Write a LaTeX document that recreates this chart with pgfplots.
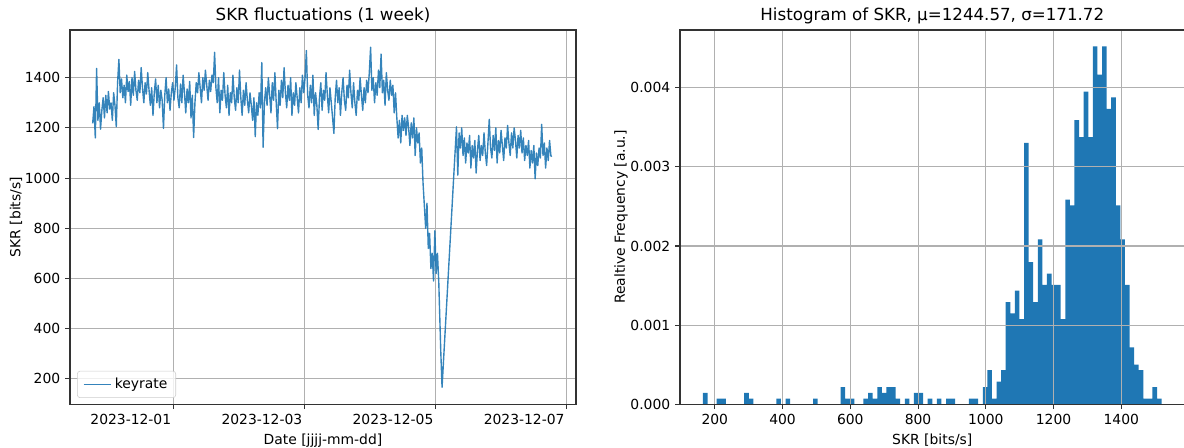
\documentclass[border=0pt]{standalone}
\usepackage{fontspec}
\setmainfont{DejaVu Sans}
\usepackage{pgfplots}
\pgfplotsset{compat=1.18}
\definecolor{mplblue}{HTML}{1F77B4}
\definecolor{gridgray}{HTML}{B0B0B0}
\pgfplotsset{
  mpl/.style={
    scale only axis,
    axis line style={line width=0.8pt, black!80},
    tick pos=left,
    tick align=outside,
    major tick length=3.5pt,
    every tick/.style={line width=0.8pt, black!80},
    grid=major,
    grid style={line width=0.8pt, gridgray},
    tick label style={font=\fontsize{10}{12}\selectfont},
    label style={font=\fontsize{10}{12}\selectfont},
    ylabel style={yshift=-5pt},
    title style={font=\fontsize{12}{14}\selectfont, at={(0.5,1)}, anchor=base, yshift=1pt},
    /pgf/number format/assume math mode=true,
  }
}
\begin{document}
\begin{tikzpicture}[x=1pt,y=1pt]
\useasboundingbox (0,0) rectangle (852.48,322.56);
\begin{axis}[mpl,
  at={(50.4pt,31.46pt)}, anchor=south west,
  width=364.3pt, height=269.5pt,
  xmin=-1.576, xmax=6.143, ymin=99, ymax=1590,
  xtick={0,2,4,6},
  xticklabels={2023-12-01,2023-12-03,2023-12-05,2023-12-07},
  xticklabel style={anchor=north east, xshift=2pt},
  ytick={200,400,600,800,1000,1200,1400},
  yticklabel style={/pgf/number format/1000 sep={}},
  title={SKR fluctuations (1 week)},
  xlabel={Date [jjjj-mm-dd]},
  ylabel={SKR [bits/s]},
  legend style={at={(0.014,0.017)}, anchor=south west, draw=black!20, rounded corners=2pt, font=\fontsize{10}{12}\selectfont, inner xsep=4pt, inner ysep=3pt, fill=white, fill opacity=0.8, text opacity=1},
  legend image code/.code={\draw[#1] (0pt,0pt) -- (20pt,0pt);},
]
\addplot[color=mplblue, line width=1pt, opacity=0.9, line join=round] coordinates {
(-1.23,1218)(-1.21,1285)(-1.19,1160)(-1.17,1437)(-1.15,1230)(-1.13,1300)(-1.11,1195)(-1.09,1270)(-1.07,1320)(-1.05,1240)(-1.03,1330)(-1.01,1260)(-0.99,1345)(-0.97,1275)(-0.95,1300)(-0.93,1230)(-0.91,1340)(-0.89,1290)
(-0.87,1205)(-0.85,1380)(-0.83,1473)(-0.81,1340)(-0.79,1395)(-0.77,1320)(-0.75,1370)(-0.73,1300)(-0.71,1410)(-0.69,1345)(-0.67,1385)(-0.65,1290)(-0.63,1400)(-0.61,1330)(-0.59,1425)(-0.57,1350)(-0.55,1310)(-0.53,1390)(-0.51,1340)(-0.49,1440)(-0.47,1360)(-0.45,1300)(-0.43,1380)(-0.41,1335)(-0.39,1420)(-0.37,1350)
(-0.35,1290)(-0.33,1360)(-0.31,1250)(-0.29,1340)(-0.27,1395)(-0.25,1300)(-0.23,1370)(-0.21,1280)(-0.19,1350)(-0.17,1310)(-0.15,1198)(-0.13,1330)(-0.11,1400)(-0.09,1300)(-0.07,1355)(-0.05,1270)(-0.03,1340)(-0.01,1380)(0.01,1310)(0.03,1360)(0.05,1451)(0.07,1320)(0.09,1280)(0.11,1375)(0.13,1300)(0.15,1410)(0.17,1340)(0.19,1260)(0.21,1355)(0.23,1300)(0.25,1385)(0.27,1240)(0.29,1330)
(0.31,1162)(0.33,1300)(0.35,1380)(0.37,1340)(0.39,1420)(0.41,1360)(0.43,1300)(0.45,1400)(0.47,1350)(0.49,1430)(0.51,1370)(0.53,1310)(0.55,1390)(0.57,1345)(0.59,1410)
(0.61,1380)(0.63,1501)(0.65,1360)(0.67,1300)(0.69,1400)(0.71,1260)(0.73,1350)(0.75,1310)(0.77,1420)(0.79,1330)(0.81,1280)(0.83,1370)(0.85,1250)(0.87,1340)(0.89,1300)(0.91,1410)(0.93,1320)(0.95,1270)(0.97,1360)(0.99,1300)(1.01,1430)(1.03,1320)(1.05,1250)(1.07,1350)(1.09,1290)(1.11,1380)(1.13,1310)(1.15,1260)(1.17,1340)(1.19,1290)(1.21,1230)(1.23,1320)
(1.25,1165)(1.27,1300)(1.29,1250)(1.31,1340)(1.33,1280)(1.35,1460)(1.37,1123)(1.39,1300)
(1.41,1360)(1.43,1290)(1.45,1400)(1.47,1330)(1.49,1260)(1.51,1380)(1.53,1310)(1.55,1420)(1.57,1300)(1.59,1197)(1.61,1350)(1.63,1290)(1.65,1390)(1.67,1320)(1.69,1440)(1.71,1340)(1.73,1280)(1.75,1370)(1.77,1310)(1.79,1400)(1.81,1250)(1.83,1340)(1.85,1290)(1.87,1380)(1.89,1320)(1.91,1260)(1.93,1360)(1.95,1300)(1.97,1410)(1.99,1340)
(2.01,1400)(2.03,1508)(2.05,1330)(2.07,1280)(2.09,1370)(2.11,1300)(2.13,1410)(2.15,1250)(2.17,1340)(2.19,1290)(2.21,1194)(2.23,1320)(2.25,1380)(2.27,1270)(2.29,1350)(2.31,1310)(2.33,1420)(2.35,1330)(2.37,1260)(2.39,1360)(2.41,1300)(2.43,1240)(2.45,1178)(2.47,1320)(2.49,1390)(2.51,1300)(2.53,1360)(2.55,1250)(2.57,1340)(2.59,1400)(2.61,1310)(2.63,1270)(2.65,1370)(2.67,1320)(2.69,1430)(2.71,1340)(2.73,1280)(2.75,1380)(2.77,1300)(2.79,1250)(2.81,1350)(2.83,1310)(2.85,1400)(2.87,1330)(2.89,1270)(2.91,1360)(2.93,1300)(2.95,1390)(2.97,1340)(2.99,1420)
(3.01,1521)(3.03,1350)(3.05,1400)(3.07,1300)(3.09,1380)(3.11,1330)(3.13,1430)(3.15,1360)(3.17,1494)(3.19,1340)(3.21,1390)(3.23,1290)(3.25,1420)(3.27,1350)(3.29,1310)(3.31,1390)(3.33,1330)(3.35,1370)(3.37,1260)(3.39,1340)
(3.41,1240)(3.43,1160)(3.45,1230)(3.47,1140)(3.49,1250)(3.51,1190)(3.53,1240)(3.55,1170)(3.57,1250)(3.59,1200)(3.61,1130)(3.63,1220)(3.65,1160)(3.67,1240)(3.69,1090)(3.71,1200)(3.73,1140)(3.75,1180)(3.77,1060)(3.79,1120)
(3.81,980)(3.83,890)(3.85,800)(3.87,900)(3.89,720)(3.91,780)(3.93,640)(3.95,700)(3.97,590)(3.99,790)(4.01,620)(4.03,700)(4.05,585)(4.08,313)(4.10,167)(4.32,1204)
(4.34,1012)(4.36,1180)(4.38,1120)(4.40,1200)(4.42,1090)(4.44,1160)(4.46,1060)(4.48,1140)(4.50,1100)(4.52,1170)(4.54,1040)(4.56,1130)(4.58,1080)(4.60,1150)(4.62,1020)(4.64,1110)(4.66,1170)(4.68,1070)(4.70,1130)(4.72,1090)(4.74,1180)(4.76,1100)(4.78,1050)(4.80,1140)(4.82,1234)(4.84,1120)(4.86,1080)(4.88,1170)(4.90,1110)(4.92,1200)(4.94,1060)(4.96,1150)(4.98,1100)(5.00,1190)(5.02,1130)(5.04,1070)(5.06,1160)(5.08,1120)(5.10,1210)(5.12,1140)(5.14,1090)(5.16,1180)(5.18,1120)(5.20,1200)(5.22,1150)(5.24,1080)(5.26,1170)(5.28,1120)(5.30,1190)(5.32,1100)(5.34,1160)(5.36,1070)(5.38,1130)(5.40,1090)(5.42,1150)(5.44,1040)(5.46,1110)(5.48,1060)(5.50,1130)(5.52,997)(5.54,1100)(5.56,1050)(5.58,1120)(5.60,1080)(5.62,1214)(5.64,1090)(5.66,1140)(5.68,1040)(5.70,1120)(5.72,1070)(5.74,1150)(5.76,1090)(5.77,1085)
};
\addlegendentry{keyrate}
\end{axis}
\begin{axis}[mpl,
  at={(489.6pt,31.46pt)}, anchor=south west,
  width=363.3pt, height=269.5pt,
  axis on top,
  xmin=97.3, xmax=1586.7, ymin=0, ymax=0.004729,
  xtick={200,400,600,800,1000,1200,1400},
  ytick={0,0.001,0.002,0.003,0.004},
  scaled y ticks=false,
  yticklabel style={/pgf/number format/.cd, fixed, fixed zerofill, precision=3},
  xticklabel style={/pgf/number format/1000 sep={}},
  title={Histogram of SKR, μ=1244.57, σ=171.72},
  xlabel={SKR [bits/s]},
  ylabel={Realtive Frequency [a.u.]},
]
\addplot[ybar, bar width=13.54, bar shift=0pt, fill=mplblue, draw=none] coordinates {
(171.77,0.0001436)(212.39,0.0000718)(225.93,0.0000718)(293.63,0.0001436)(307.17,0.0000718)
(388.41,0.0000718)(415.49,0.0000718)(496.73,0.0000718)(577.97,0.0002154)(591.51,0.0000718)
(605.05,0.0000718)(645.67,0.0000718)(659.21,0.0001436)(672.75,0.0000718)(686.29,0.0002154)
(699.83,0.0001436)(713.37,0.0002154)(726.91,0.0002154)(740.45,0.0000718)(767.53,0.0000718)
(794.61,0.0001436)(808.15,0.0001436)(835.23,0.0000718)(862.31,0.0000718)(889.39,0.0000718)
(902.93,0.0000718)(957.09,0.0000718)(970.63,0.0000718)(997.71,0.0002154)(1011.25,0.0004308)
(1024.79,0.0000718)(1038.33,0.0002872)(1051.87,0.0004308)(1065.41,0.0012924)(1078.95,0.0011488)
(1092.49,0.001436)(1106.03,0.001077)(1119.57,0.0033028)(1133.11,0.001795)(1146.65,0.0012924)
(1160.19,0.0020822)(1173.73,0.0015078)(1187.27,0.0016514)(1200.81,0.0015078)(1214.35,0.0015078)
(1227.89,0.001077)(1241.43,0.0025848)(1254.97,0.002513)(1268.51,0.00359)(1282.05,0.0033746)
(1295.59,0.003949)(1309.13,0.0033746)(1322.67,0.0045234)(1336.21,0.0041644)(1349.75,0.0045234)
(1363.29,0.0037336)(1376.83,0.0038772)(1390.37,0.002513)(1403.91,0.0020822)(1417.45,0.0015078)
(1430.99,0.000718)(1444.53,0.0005026)(1458.07,0.0004308)(1471.61,0.0000718)(1485.15,0.0000718)
(1498.69,0.0002154)(1512.23,0.0000718)
};
\end{axis}
\end{tikzpicture}
\end{document}
